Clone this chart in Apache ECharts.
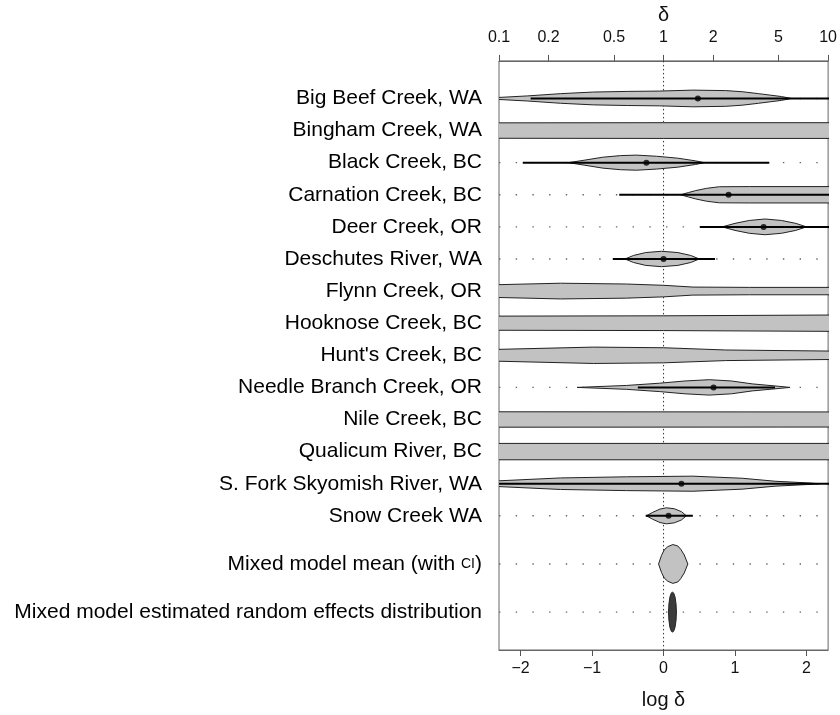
<!DOCTYPE html>
<html>
<head>
<meta charset="utf-8">
<script src="https://cdn.jsdelivr.net/npm/echarts@6/dist/echarts.min.js"></script>
<style>
  html, body { margin: 0; padding: 0; background: #fff; }
  #chart { width: 840px; height: 715px; }
</style>
</head>
<body>
<div id="chart"></div>
<script>
// rows, top to bottom
const siteNames = [
  'Big Beef Creek, WA', 'Bingham Creek, WA', 'Black Creek, BC', 'Carnation Creek, BC',
  'Deer Creek, OR', 'Deschutes River, WA', 'Flynn Creek, OR', 'Hooknose Creek, BC',
  "Hunt's Creek, BC", 'Needle Branch Creek, OR', 'Nile Creek, BC', 'Qualicum River, BC',
  'S. Fork Skyomish River, WA', 'Snow Creek WA', 'Mixed model mean (with {sc|CI})',
  'Mixed model estimated random effects distribution'
];
const rowPos = [0, 1, 2, 3, 4, 5, 6, 7, 8, 9, 10, 11, 12, 13, 14.5, 16];

// violin outlines: [log delta, half width in rows]
const profiles = [
  [[-2.4, 0.02], [-1.9, 0.08], [-1.44, 0.15], [-0.98, 0.2], [-0.5, 0.22], [-0.06, 0.23], [0.41, 0.26], [0.87, 0.245], [1.1, 0.21], [1.33, 0.15], [1.65, 0.06], [1.79, 0]],
  [[-2.4, 0.24], [0, 0.245], [2.4, 0.245]],
  [[-1.33, 0], [-1.1, 0.08], [-0.85, 0.17], [-0.6, 0.22], [-0.38, 0.235], [-0.1, 0.2], [0.2, 0.14], [0.45, 0.055], [0.57, 0]],
  [[0.24, 0], [0.35, 0.07], [0.45, 0.13], [0.6, 0.2], [0.78, 0.25], [1.2, 0.255], [2.4, 0.255]],
  [[0.82, 0], [1.0, 0.11], [1.2, 0.2], [1.42, 0.245], [1.65, 0.2], [1.85, 0.11], [2.0, 0]],
  [[-0.54, 0], [-0.42, 0.11], [-0.25, 0.2], [-0.03, 0.24], [0.2, 0.2], [0.38, 0.11], [0.5, 0]],
  [[-2.4, 0.195], [-1.44, 0.245], [-0.52, 0.22], [0, 0.18], [0.41, 0.125], [1.2, 0.115], [2.4, 0.115]],
  [[-2.4, 0.22], [0, 0.23], [2.4, 0.255]],
  [[-2.4, 0.18], [-0.98, 0.255], [0, 0.235], [0.87, 0.165], [2.4, 0.13]],
  [[-1.21, 0], [-0.52, 0.06], [-0.06, 0.13], [0.3, 0.2], [0.64, 0.24], [0.95, 0.2], [1.24, 0.11], [1.56, 0.045], [1.77, 0]],
  [[-2.4, 0.24], [2.4, 0.235]],
  [[-2.4, 0.255], [2.4, 0.255]],
  [[-2.4, 0.08], [-1.44, 0.18], [-0.52, 0.215], [0.41, 0.235], [1.1, 0.17], [1.56, 0.077], [2.02, 0.025], [2.18, 0]],
  [[-0.24, 0], [-0.15, 0.11], [-0.05, 0.21], [0.04, 0.25], [0.15, 0.22], [0.25, 0.13], [0.32, 0]],
  [[-0.07, 0], [-0.03, 0.26], [0.01, 0.44], [0.06, 0.54], [0.13, 0.605], [0.2, 0.56], [0.24, 0.46], [0.29, 0.28], [0.34, 0]],
  [[0.07, 0], [0.075, 0.25], [0.09, 0.48], [0.11, 0.6], [0.125, 0.62], [0.14, 0.6], [0.16, 0.48], [0.175, 0.25], [0.18, 0]]
];

// interval lines and point estimates (null = not shown)
const ciRanges = [
  [-1.86, 2.4], null, [-1.97, 1.48], [-0.62, 2.4], [0.51, 2.4], [-0.71, 0.72], null, null,
  null, [-0.36, 1.56], null, null, [-2.4, 2.4], [-0.25, 0.41], null, null
];
const medians = [0.48, null, -0.24, 0.91, 1.40, 0.0, null, null, null, 0.70, null, null, 0.25, 0.07, null, null];

const logTicks = [-2, -1, 0, 1, 2];
const deltaTicks = [0.1, 0.2, 0.5, 1, 2, 5, 10];

const LOG_MIN = Math.log(0.1);
const LOG_MAX = Math.log(10);
const FONT = 'Liberation Sans, Arial, sans-serif';

const chart = echarts.init(document.getElementById('chart'));

const rowItems = rowPos.map((p, i) => [0, p, i]);

function violinItem(params, api) {
  const i = api.value(2);
  const p = rowPos[i];
  const prof = profiles[i];
  const top = prof.map(d => api.coord([d[0], p - d[1]]));
  const bottom = prof.slice().reverse().map(d => api.coord([d[0], p + d[1]]));
  const dark = i === rowPos.length - 1;
  return {
    type: 'polygon',
    shape: { points: top.concat(bottom) },
    style: { fill: dark ? '#3c3c3c' : '#c2c2c2', stroke: '#222', lineWidth: 1, lineJoin: 'round' }
  };
}

function guideItem(params, api) {
  const p = api.value(1);
  const a = api.coord([LOG_MIN, p]);
  const b = api.coord([LOG_MAX, p]);
  return {
    type: 'line',
    shape: { x1: a[0], y1: a[1], x2: b[0], y2: b[1] },
    style: { stroke: '#666', lineWidth: 1.4, lineDash: [1.4, 15.3] }
  };
}

function ciItem(params, api) {
  const i = api.value(2);
  const r = ciRanges[i];
  if (!r) return null;
  const a = api.coord([r[0], rowPos[i]]);
  const b = api.coord([r[1], rowPos[i]]);
  return {
    type: 'line',
    shape: { x1: a[0], y1: a[1], x2: b[0], y2: b[1] },
    style: { stroke: '#000', lineWidth: 2 }
  };
}

const option = {
  animation: false,
  grid: { left: 499, right: 8, top: 59, bottom: 59, show: true, borderColor: '#666', borderWidth: 1 },
  xAxis: [
    {
      type: 'value', position: 'bottom', min: LOG_MIN, max: LOG_MAX,
      axisLine: { show: true, onZero: false, lineStyle: { color: '#666' } },
      axisTick: { show: true, customValues: logTicks, length: 6, lineStyle: { color: '#555' } },
      axisLabel: {
        customValues: logTicks, margin: 11, color: '#111', fontSize: 16, fontFamily: FONT,
        formatter: v => (v < 0 ? '\u2212' + (-v) : String(v))
      },
      splitLine: { show: false },
      name: 'log \u03b4', nameLocation: 'middle', nameGap: 40,
      nameTextStyle: { color: '#111', fontSize: 20, fontFamily: FONT }
    },
    {
      type: 'value', position: 'top', min: LOG_MIN, max: LOG_MAX,
      axisLine: { show: true, onZero: false, lineStyle: { color: '#666' } },
      axisTick: { show: true, customValues: deltaTicks.map(Math.log), length: 6, lineStyle: { color: '#555' } },
      axisLabel: {
        customValues: deltaTicks.map(Math.log), margin: 15, color: '#111', fontSize: 16, fontFamily: FONT,
        formatter: v => {
          const d = deltaTicks.find(t => Math.abs(Math.log(t) - v) < 1e-6);
          return d === undefined ? '' : String(d);
        }
      },
      splitLine: { show: false },
      name: '\u03b4', nameLocation: 'middle', nameGap: 34,
      nameTextStyle: { color: '#111', fontSize: 20, fontFamily: FONT }
    }
  ],
  yAxis: {
    type: 'value', inverse: true, min: -1.17, max: 17.18,
    axisLine: { show: false, onZero: false },
    axisTick: { show: false },
    splitLine: { show: false },
    axisLabel: {
      customValues: rowPos, margin: 17, color: '#000', fontSize: 21, fontFamily: FONT,
      formatter: v => {
        const i = rowPos.findIndex(p => Math.abs(p - v) < 1e-6);
        return i < 0 ? '' : siteNames[i];
      },
      rich: { sc: { fontSize: 14, fontFamily: FONT, color: '#000' } }
    }
  },
  series: [
    {
      type: 'custom', name: 'guides', clip: true, z: 1,
      data: rowItems, encode: { x: 0, y: 1 }, renderItem: guideItem
    },
    {
      type: 'custom', name: 'zero', clip: true, z: 2,
      data: [[0, 0]], encode: { x: 0, y: 1 },
      renderItem: (params, api) => {
        const a = api.coord([0, -1.17]);
        const b = api.coord([0, 17.18]);
        return {
          type: 'line',
          shape: { x1: a[0], y1: a[1], x2: b[0], y2: b[1] },
          style: { stroke: '#333', lineWidth: 1, lineDash: [1.5, 2.5] }
        };
      }
    },
    {
      type: 'custom', name: 'violins', clip: true, z: 3,
      data: rowItems, encode: { x: 0, y: 1 }, renderItem: violinItem
    },
    {
      type: 'custom', name: 'intervals', clip: true, z: 4,
      data: rowItems, encode: { x: 0, y: 1 }, renderItem: ciItem
    },
    {
      type: 'scatter', name: 'medians', z: 5, symbolSize: 6,
      itemStyle: { color: '#000' },
      data: medians.map((m, i) => (m === null ? null : [m, rowPos[i]])).filter(d => d)
    }
  ]
};

chart.setOption(option);
</script>
</body>
</html>
